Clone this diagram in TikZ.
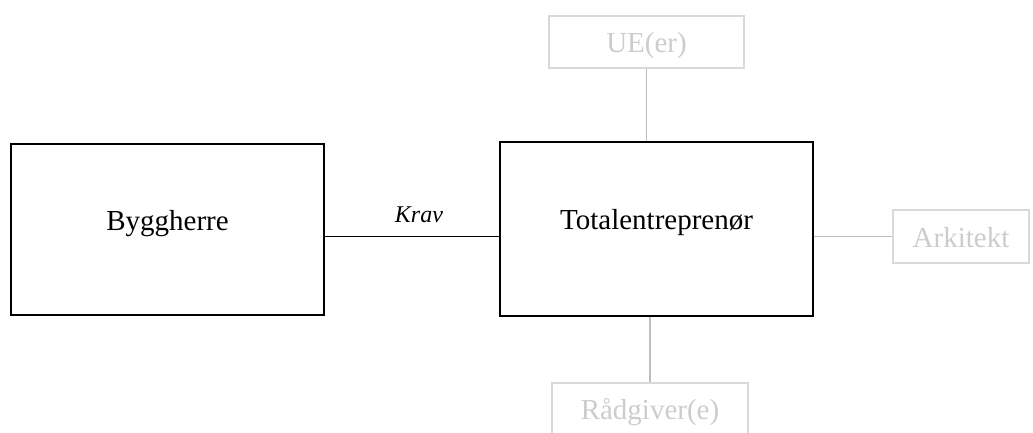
\documentclass[tikz,border=0pt]{standalone}
\usepackage{fontspec}
\setmainfont{Liberation Serif}
\definecolor{lightline}{HTML}{BDBDBD}
\definecolor{lightbox}{HTML}{D9D9D9}
\definecolor{lighttext}{HTML}{CCCCCC}
\begin{document}
\begin{tikzpicture}[x=1pt,y=-1pt,
  mainbox/.style={draw=black,line width=1.8pt,rectangle,inner sep=0pt,
    text height=10pt,text depth=9pt,font=\fontsize{29}{34}\selectfont},
  sidebox/.style={draw=lightbox,line width=1.5pt,rectangle,inner sep=0pt,
    text height=21pt,text depth=0pt,text=lighttext,font=\fontsize{29}{34}\selectfont},
  mainline/.style={draw=black,line width=1pt},
  sideline/.style={draw=lightline,line width=1.2pt}]
\useasboundingbox (0,0) rectangle (1033,432);
\node[mainbox,minimum width=313pt,minimum height=171pt] (bh) at (167.5,229.5) {Byggherre};
\node[mainbox,minimum width=313pt,minimum height=174pt] (te) at (656.5,229) {Totalentreprenør};
\node[sidebox,minimum width=195pt,minimum height=52pt] (ue) at (646.5,42) {UE(er)};
\node[sidebox,minimum width=136pt,minimum height=53pt] (ark) at (961,236.5) {Arkitekt};
\node[sidebox,minimum width=196pt,minimum height=52pt] (rg) at (650,409) {Rådgiver(e)};
\draw[mainline] (bh.east |- ark.west) -- node[pos=0.54,anchor=base,yshift=14.5pt,inner sep=0pt,font=\fontsize{24}{28}\selectfont\itshape] (krav) {Krav} (te.west |- ark.west);
\draw[sideline] (ue.south) -- (ue.south |- te.north);
\draw[sideline] (te.east |- ark.west) -- (ark.west);
\draw[sideline] (rg.north) -- (rg.north |- te.south);
\end{tikzpicture}
\end{document}
